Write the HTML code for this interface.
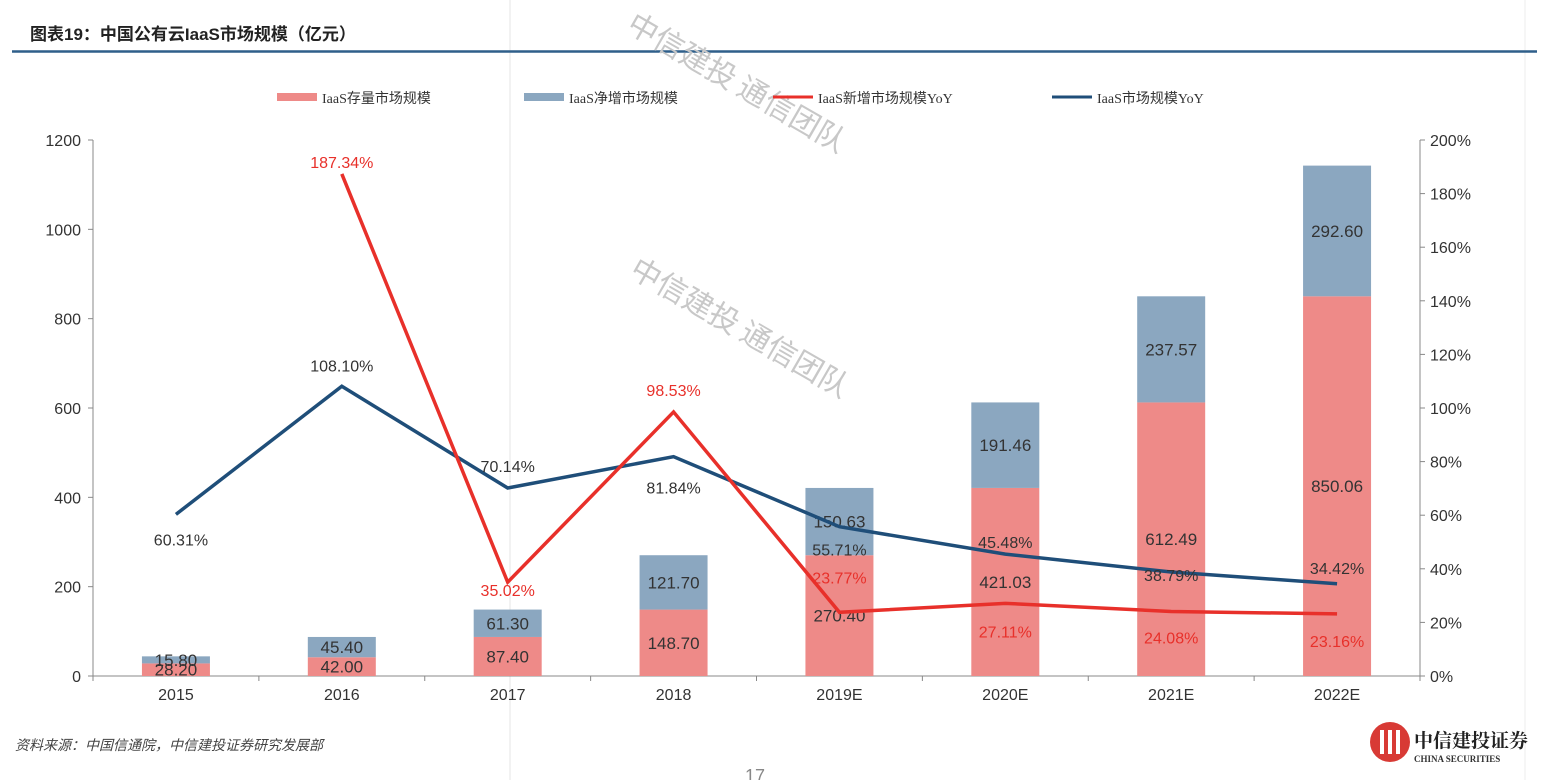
<!DOCTYPE html>
<html><head><meta charset="utf-8">
<style>
html,body{margin:0;padding:0;background:#fff;}
body{width:1556px;height:780px;overflow:hidden;position:relative;font-family:"Liberation Sans","Noto Sans CJK SC",sans-serif;}
svg{position:absolute;left:0;top:0;}
</style></head>
<body>
<svg id="chart" width="1556" height="780">
<line x1="510" y1="0" x2="510" y2="780" stroke="#e6e6e6" stroke-width="1"/>
<line x1="1525" y1="0" x2="1525" y2="780" stroke="#eeeeee" stroke-width="1"/>
<text x="30" y="40" font-size="17" font-weight="bold" fill="#222" style="font-family:'Liberation Sans','Noto Sans CJK SC',sans-serif">图表19：中国公有云IaaS市场规模（亿元）</text>
<line x1="12" y1="51.5" x2="1537" y2="51.5" stroke="#2f5f8a" stroke-width="2.5"/>
<g font-size="30" fill="#c8c8c8" style="font-family:'Noto Sans CJK SC',sans-serif">
<text transform="translate(625,30) rotate(30)">中信建投 通信团队</text>
<text transform="translate(628,275) rotate(30)">中信建投 通信团队</text>
</g>
<g id="legend" font-size="14" fill="#333" style="font-family:'Liberation Serif','Noto Sans CJK SC',serif">
<rect x="277" y="93" width="40" height="8" fill="#ee8a88"/>
<text x="322" y="103">IaaS存量市场规模</text>
<rect x="524" y="93" width="40" height="8" fill="#8ba7c0"/>
<text x="569" y="103">IaaS净增市场规模</text>
<line x1="773" y1="97" x2="813" y2="97" stroke="#e8302a" stroke-width="3"/>
<text x="818" y="103">IaaS新增市场规模YoY</text>
<line x1="1052" y1="97" x2="1092" y2="97" stroke="#1f4e79" stroke-width="3"/>
<text x="1097" y="103">IaaS市场规模YoY</text>
</g>
<g id="plot"></g>
<text x="15" y="750" font-size="14" font-style="italic" fill="#444" style="font-family:'Noto Sans CJK SC',sans-serif">资料来源：中国信通院，中信建投证券研究发展部</text>
<g>
<circle cx="1390" cy="742" r="20" fill="#d83a35"/>
<rect x="1380" y="730" width="4" height="24" fill="#fff"/><rect x="1388" y="730" width="4" height="24" fill="#fff"/><rect x="1396" y="730" width="4" height="24" fill="#fff"/>
<text x="1414" y="747" font-size="19" font-weight="bold" fill="#222" style="font-family:'Noto Serif CJK SC',serif">中信建投证券</text>
<text x="1414" y="762" font-size="9" font-weight="bold" fill="#333" style="font-family:'Liberation Serif',serif">CHINA SECURITIES</text>
</g>
<text x="745" y="782" font-size="18" fill="#888">17</text>
</svg>
<script>
const categories=["2015","2016","2017","2018","2019E","2020E","2021E","2022E"];
const stockValues=[28.20,42.00,87.40,148.70,270.40,421.03,612.49,850.06];
const netValues=[15.80,45.40,61.30,121.70,150.63,191.46,237.57,292.60];
const newYoY=[null,187.34,35.02,98.53,23.77,27.11,24.08,23.16];
const totalYoY=[60.31,108.10,70.14,81.84,55.71,45.48,38.79,34.42];
const leftTicks=[0,200,400,600,800,1000,1200];
const rightTicks=[0,20,40,60,80,100,120,140,160,180,200];

const NS="http://www.w3.org/2000/svg";
const g=document.getElementById('plot');
const X0=93,X1=1420,Y0=676,Y1=140;
const band=(X1-X0)/categories.length;
const xc=i=>X0+band*(i+0.5);
const yL=v=>Y0-(v/1200)*(Y0-Y1);
const yR=v=>Y0-(v/200)*(Y0-Y1);
function el(t,a,txt){const e=document.createElementNS(NS,t);for(const k in a)e.setAttribute(k,a[k]);if(txt!=null)e.textContent=txt;g.appendChild(e);return e;}
const F="font-family:'Liberation Sans',sans-serif";
let e=el('line',{x1:X0,y1:Y1,x2:X0,y2:Y0,stroke:'#888'});


e=el('line',{x1:X1,y1:Y1,x2:X1,y2:Y0,stroke:'#888'});


e=el('line',{x1:X0,y1:Y0,x2:X1,y2:Y0,stroke:'#888'});


leftTicks.forEach(v=>{
 el('line',{x1:X0-5,y1:yL(v),x2:X0,y2:yL(v),stroke:'#888'});
 e=el('text',{x:X0-12,y:yL(v)+6,'text-anchor':'end','font-size':16,fill:'#333',style:F},String(v));
 
 
});
rightTicks.forEach(v=>{
 el('line',{x1:X1,y1:yR(v),x2:X1+5,y2:yR(v),stroke:'#888'});
 e=el('text',{x:X1+10,y:yR(v)+6,'font-size':16,fill:'#333',style:F},v+'%');
 
 
});
for(let i=0;i<=categories.length;i++){el('line',{x1:X0+band*i,y1:Y0,x2:X0+band*i,y2:Y0+5,stroke:'#888'});}
categories.forEach((c,i)=>{
 e=el('text',{x:xc(i),y:Y0+24,'text-anchor':'middle','font-size':16,fill:'#333',style:F},c);
 
 
});
const bw=68;
categories.forEach((c,i)=>{
 const s=stockValues[i],n=netValues[i];
 e=el('rect',{x:xc(i)-bw/2,y:yL(s),width:bw,height:Y0-yL(s),fill:'#ee8a88'});
 
 
 e=el('rect',{x:xc(i)-bw/2,y:yL(s+n),width:bw,height:yL(s)-yL(s+n),fill:'#8ba7c0'});
 
 
});
categories.forEach((c,i)=>{
 const s=stockValues[i],n=netValues[i];
 e=el('text',{x:xc(i),y:(yL(s)+Y0)/2+6,'text-anchor':'middle','font-size':17,fill:'#333',style:F},s.toFixed(2));
 
 
 e=el('text',{x:xc(i),y:(yL(s)+yL(s+n))/2+6,'text-anchor':'middle','font-size':17,fill:'#333',style:F},n.toFixed(2));
 
 
});
function path(arr){let d='';arr.forEach((v,i)=>{if(v==null)return;d+=(d?'L':'M')+xc(i)+','+yR(v);});return d;}
e=el('path',{d:path(totalYoY),fill:'none',stroke:'#1f4e79','stroke-width':3.5});


e=el('path',{d:path(newYoY),fill:'none',stroke:'#e8302a','stroke-width':3.5});


const totOff=[25,-21,-22,31,23,-12,3,-16];
const newOff=[0,-12,8,-22,-35,28,26,27];
totalYoY.forEach((v,i)=>{
 e=el('text',{x:xc(i)+(i==0?5:0),y:yR(v)+totOff[i]+6,'text-anchor':'middle','font-size':16,fill:'#333',style:F},v.toFixed(2)+'%');
 
 
});
newYoY.forEach((v,i)=>{
 if(v==null)return;
 e=el('text',{x:xc(i),y:yR(v)+newOff[i]+6,'text-anchor':'middle','font-size':16,fill:'#e8302a',style:F},v.toFixed(2)+'%');
 
 
});
</script>
</body></html>
